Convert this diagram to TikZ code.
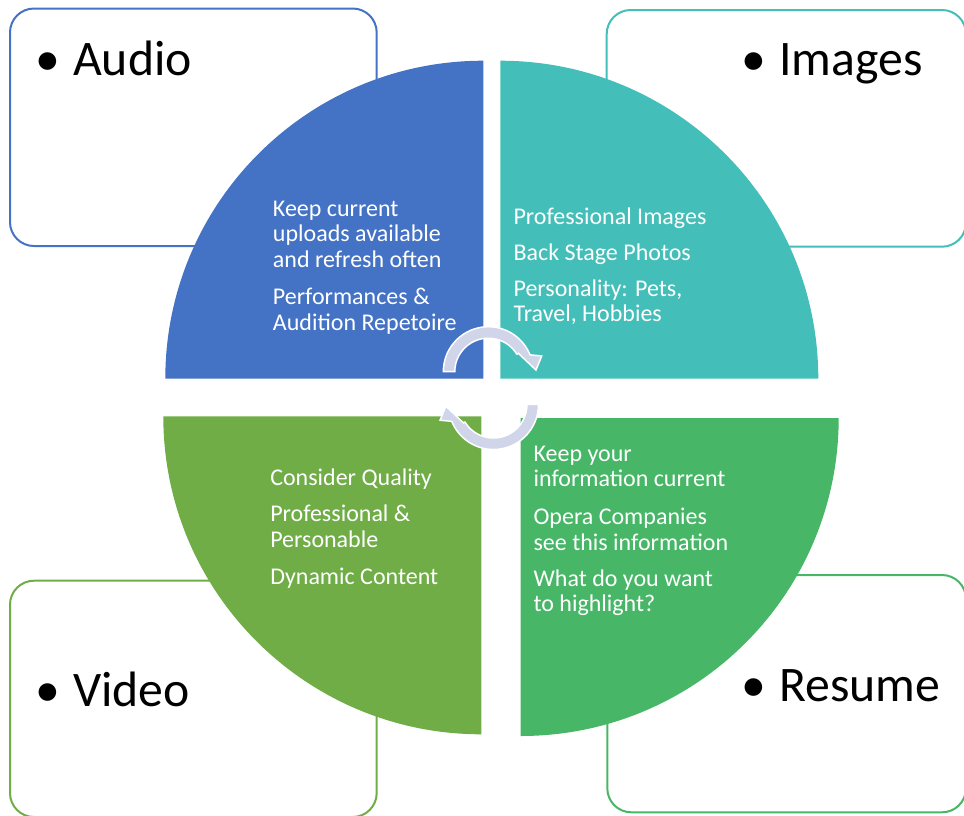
\documentclass[tikz,border=0pt]{standalone}
\usepackage{fontspec}
\setmainfont{Carlito}
\definecolor{cblue}{HTML}{4472C4}
\definecolor{cteal}{HTML}{44BEB8}
\definecolor{cgreenA}{HTML}{70AD47}
\definecolor{cgreenB}{HTML}{47B767}
\definecolor{carrow}{HTML}{D0D5EA}
\tikzset{
  box/.style={line width=1.5pt, rounded corners=18pt},
  small/.style={text=white, font=\fontsize{18}{19.1}\selectfont, align=left, inner sep=0pt, anchor=base west},
  big/.style={text=black, font=\fontsize{37.3}{44}\selectfont, inner sep=0pt, anchor=base west},
  cyclearrow/.style={fill=carrow, draw=white, line width=1.1pt, line join=miter}
}
\begin{document}
\begin{tikzpicture}[x=0.75pt,y=-0.75pt]
\useasboundingbox (0,0) rectangle (964,815);
% boxes
\draw[box, draw=cblue] (10,8.5) rectangle (376.7,246);
\draw[box, draw=cteal] (606.7,10) rectangle (966,246.7);
\draw[box, draw=cgreenA] (10,580.7) rectangle (376.7,817);
\draw[box, draw=cgreenB] (607.3,575) rectangle (966,812.3);
% quadrants
\fill[cblue] (483.3,378.7) -- ++(-318,0) arc[start angle=180,end angle=270,radius=318] -- cycle;
\fill[cteal] (500.3,378.7) -- ++(0,-318) arc[start angle=270,end angle=360,radius=318] -- cycle;
\fill[cgreenA] (481.3,416.3) -- ++(-318,0) arc[start angle=180,end angle=90,radius=318] -- cycle;
\fill[cgreenB] (520.7,418) -- ++(318,0) arc[start angle=0,end angle=90,radius=318] -- cycle;
% circular arrows
\begin{scope}[shift={(488.3,371.7)}]
\filldraw[cyclearrow] (180:45) arc[start angle=180,end angle=338,radius=45] -- (343.6:55.7) -- (358:47.7) -- (328.5:35.2) -- (328.5:33.5) arc[start angle=328.5,end angle=180,radius=33.5] -- cycle;
\end{scope}
\begin{scope}[shift={(493.5,404.5)}]
\filldraw[cyclearrow] (0:45) arc[start angle=0,end angle=158,radius=45] -- (163.6:55.7) -- (178:47.7) -- (148.5:35.2) -- (148.5:33.5) arc[start angle=148.5,end angle=0,radius=33.5] -- cycle;
\end{scope}
% big labels
\node[big] (audio) at (35.5,75) {•\hspace{9.5pt}Audio};
\node[big] (images) at (741.5,75) {•\hspace{9.5pt}Images};
\node[big] (video) at (35.5,706.7) {•\hspace{9.5pt}Video};
\node[big] (resume) at (741.5,701.7) {•\hspace{9.5pt}Resume};
% quadrant texts (anchored at the baseline of their last line)
\node[small] (a1) at (272.7,267.3) {Keep current\\uploads available\\and refresh often};
\node[small] (a2) at (272.7,330) {Performances \&\\Audition Repetoire};
\node[small] (i1) at (513.3,224.3) {Professional Images};
\node[small] (i2) at (513.3,260) {Back Stage Photos};
\node[small] (i3) at (513.3,321.7) {Personality: Pets,\\Travel, Hobbies};
\node[small] (v1) at (270,485) {Consider Quality};
\node[small] (v2) at (270,547.3) {Professional \&\\Personable};
\node[small] (v3) at (270,584) {Dynamic Content};
\node[small] (r1) at (533.3,486.7) {Keep your\\information current};
\node[small] (r2) at (533.3,550) {Opera Companies\\see this information};
\node[small] (r3) at (533.3,611.7) {What do you want\\to highlight?};
\end{tikzpicture}
\end{document}
